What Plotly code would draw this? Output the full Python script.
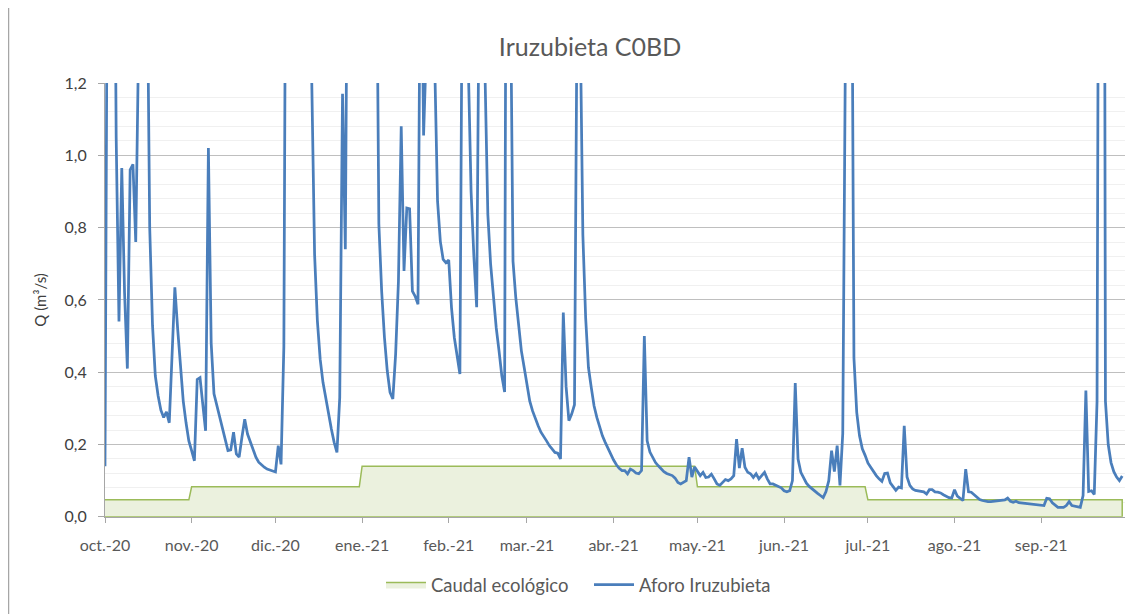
import plotly.graph_objects as go
import pandas as pd

# caudal diario (m3/s) - Aforo Iruzubieta, año hidrológico 2020-21
oct_20 = [0.14, 1.9, 3.0, 2.2, 1.05, 0.54, 0.965, 0.62, 0.41, 0.96, 0.975, 0.76, 1.3, 2.5, 2.0, 1.6,
          0.8, 0.53, 0.39, 0.335, 0.295, 0.275, 0.29, 0.26, 0.45, 0.635, 0.52, 0.41, 0.32, 0.26, 0.21]
nov_20 = [0.183, 0.155, 0.38, 0.385, 0.31, 0.238, 1.02, 0.48, 0.34, 0.307, 0.275, 0.243, 0.21, 0.183, 0.185,
          0.234, 0.174, 0.165, 0.22, 0.27, 0.229, 0.206, 0.183, 0.165, 0.151, 0.143, 0.137, 0.132, 0.13, 0.126]
dic_20 = [0.124, 0.197, 0.145, 0.47, 2.3, 5.0, 4.0, 3.2, 2.8, 2.5, 2.3, 2.1, 1.9, 1.2, 0.726, 0.542,
          0.436, 0.372, 0.326, 0.284, 0.243, 0.206, 0.178, 0.33, 1.17, 0.74, 1.22, 3.0, 4.5, 3.5, 3.0]
ene_21 = [2.6, 2.4, 2.2, 2.0, 1.9, 1.8, 0.81, 0.624, 0.496, 0.404, 0.344, 0.326, 0.45, 0.65, 1.08, 0.68,
          0.854, 0.852, 0.624, 0.61, 0.588, 1.8, 1.055, 1.3, 2.5, 1.8, 1.25, 0.873, 0.762, 0.712, 0.703]
feb_21 = [0.71, 0.578, 0.496, 0.44, 0.395, 1.75, 2.0, 1.25, 0.90, 0.72, 0.58, 1.6, 2.5, 1.22,
          0.836, 0.698, 0.597, 0.523, 0.459, 0.39, 0.345, 3.0, 1.55, 0.707, 0.606, 0.523, 0.459, 0.413]
mar_21 = [0.36, 0.32, 0.293, 0.27, 0.252, 0.234, 0.22, 0.21, 0.197, 0.188, 0.178, 0.176, 0.16, 0.565, 0.36,
          0.266, 0.284, 0.31, 1.5, 1.4, 0.78, 0.55, 0.413, 0.358, 0.307, 0.275, 0.247, 0.224, 0.206, 0.188, 0.17]
abr_21 = [0.157, 0.144, 0.134, 0.128, 0.128, 0.119, 0.132, 0.128, 0.121, 0.119, 0.128, 0.50, 0.21, 0.179, 0.164,
          0.15, 0.141, 0.132, 0.125, 0.12, 0.117, 0.114, 0.107, 0.095, 0.091, 0.095, 0.10, 0.165, 0.11, 0.138]
may_21 = [0.125, 0.114, 0.123, 0.109, 0.11, 0.118, 0.105, 0.091, 0.087, 0.096, 0.103, 0.10, 0.105, 0.114, 0.215,
          0.135, 0.19, 0.137, 0.123, 0.119, 0.109, 0.119, 0.105, 0.114, 0.123, 0.105, 0.091, 0.091, 0.088, 0.085, 0.08]
jun_21 = [0.072, 0.069, 0.072, 0.10, 0.37, 0.16, 0.123, 0.107, 0.093, 0.084, 0.077, 0.071, 0.065, 0.059, 0.053,
          0.07, 0.10, 0.183, 0.125, 0.197, 0.087, 0.23, 1.35, 3.0, 2.0, 0.44, 0.289, 0.224, 0.188, 0.17]
jul_21 = [0.149, 0.137, 0.125, 0.114, 0.105, 0.098, 0.12, 0.121, 0.094, 0.082, 0.073, 0.082, 0.08, 0.252, 0.11,
          0.087, 0.077, 0.073, 0.071, 0.069, 0.069, 0.063, 0.075, 0.075, 0.069, 0.068, 0.066, 0.061, 0.057, 0.053, 0.052]
ago_21 = [0.075, 0.057, 0.05, 0.045, 0.132, 0.069, 0.068, 0.061, 0.054, 0.048, 0.045, 0.043, 0.042, 0.042, 0.043,
          0.045, 0.045, 0.045, 0.047, 0.052, 0.043, 0.04, 0.043, 0.039, 0.038, 0.036, 0.036, 0.036, 0.035, 0.033, 0.033]
sep_21 = [0.031, 0.031, 0.051, 0.05, 0.039, 0.031, 0.026, 0.026, 0.026, 0.031, 0.042, 0.031, 0.029, 0.028, 0.026,
          0.059, 0.349, 0.07, 0.072, 0.062, 0.32, 3.0, 4.5, 0.32, 0.2, 0.15, 0.125, 0.11, 0.10, 0.113]

# caudal ecológico mensual (m3/s)
eco_mes = [0.047, 0.083, 0.083, 0.14, 0.14, 0.14, 0.14, 0.083, 0.083, 0.047, 0.047, 0.047]
meses = ["oct.-20", "nov.-20", "dic.-20", "ene.-21", "feb.-21", "mar.-21",
         "abr.-21", "may.-21", "jun.-21", "jul.-21", "ago.-21", "sep.-21"]

aforo = (oct_20 + nov_20 + dic_20 + ene_21 + feb_21 + mar_21 +
         abr_21 + may_21 + jun_21 + jul_21 + ago_21 + sep_21)
fechas = pd.date_range("2020-10-01", "2021-09-30", freq="D")
inicio_mes = pd.date_range("2020-10-01", periods=12, freq="MS")
eco = [eco_mes[(d.year - 2020) * 12 + d.month - 10] for d in fechas]

W, H = 1142, 614
OFF = 8  # margen por defecto del <body> en la página
gris = "#595959"
font = "Lato, 'Open Sans', sans-serif"

fig = go.Figure()

# area cerrada hasta el eje (bordes verticales como en Excel)
fig.add_trace(go.Scatter(
    x=list(fechas) + [fechas[-1], fechas[0]],
    y=eco + [0, 0],
    fill="toself", fillcolor="#EBF1DE",
    line=dict(color="#9BBB59", width=1.5),
    mode="lines", name="Caudal ecológico", hoverinfo="skip",
))
fig.add_trace(go.Scatter(
    x=fechas, y=aforo, mode="lines", name="Aforo Iruzubieta",
    line=dict(color="#4A7EBB", width=2.75),
))

fig.update_layout(
    width=W, height=H,
    paper_bgcolor="white", plot_bgcolor="white",
    margin=dict(l=105 - OFF, r=W - (1125 - OFF), t=83 - OFF, b=H - (518 - OFF)),
    separators=",.",
    font=dict(family=font, color=gris, size=16),
    title=dict(text="Iruzubieta C0BD", x=(590 - OFF) / W, xanchor="center", xref="container",
               y=1 - (47 - OFF) / H, yanchor="middle", yref="container",
               font=dict(size=25, color=gris, family=font)),
    showlegend=True,
    legend=dict(orientation="h", xref="container", yref="container",
                x=(589 - OFF) / W, xanchor="center", y=1 - (585 - OFF) / H, yanchor="middle",
                font=dict(size=18.5, color=gris), itemwidth=40,
                entrywidth=153, entrywidthmode="pixels"),
)

fig.update_xaxes(
    range=["2020-10-01", "2021-10-01"],
    tickvals=inicio_mes, ticktext=meses,
    showgrid=False, showline=True, linecolor="#A6A6A6", linewidth=1,
    ticks="outside", ticklen=5, tickcolor="#A6A6A6",
    tickfont=dict(size=16, color=gris), ticklabelstandoff=9,
)
fig.update_yaxes(
    range=[0, 1.2], dtick=0.2, tickformat=".1f",
    showgrid=True, gridcolor="#BFBFBF", gridwidth=1,
    minor=dict(dtick=0.04, showgrid=True, gridcolor="#F0F0F0", gridwidth=1),
    showline=True, linecolor="#A6A6A6", linewidth=1,
    ticks="outside", ticklen=6, tickcolor="#A6A6A6",
    tickfont=dict(size=16, color="#404040"), ticklabelstandoff=8,
    zeroline=False,
    title=dict(text="Q (m³/s)", font=dict(size=15, color="#404040"), standoff=14),
)

# borde izquierdo del área del gráfico
fig.add_shape(type="line", xref="paper", yref="paper",
              x0=-(105 - OFF - 0.5) / 1020, x1=-(105 - OFF - 0.5) / 1020,
              y0=-(H - 510) / 435, y1=(510 + OFF) / 435,
              line=dict(color="#A6A6A6", width=1.5), layer="below")

fig.write_html("out.html")
